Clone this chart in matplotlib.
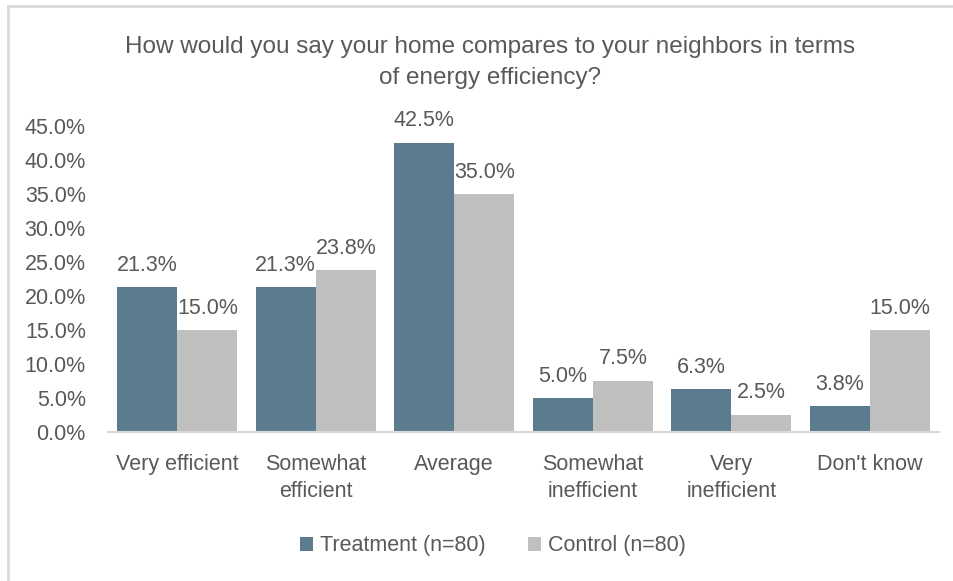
import numpy as np
import matplotlib.pyplot as plt
from matplotlib.lines import Line2D

categories = ["Very efficient", "Somewhat\nefficient", "Average",
              "Somewhat\ninefficient", "Very\ninefficient", "Don't know"]
treatment = [21.3, 21.3, 42.5, 5.0, 6.3, 3.8]
control = [15.0, 23.8, 35.0, 7.5, 2.5, 15.0]
series_names = ["Treatment (n=80)", "Control (n=80)"]

c_treat = "#5B7C8F"
c_ctrl = "#BFBFBF"
txt = "#595959"
fs = 15.5

plt.rcParams['font.family'] = ['Liberation Sans', 'DejaVu Sans']

fig = plt.figure(figsize=(9.54, 5.81), dpi=100)
ax = fig.add_axes([108 / 954, 1 - 432 / 581, (939 - 108) / 954, (432 - 126) / 581])

x = np.arange(len(categories))
w = 0.435
b1 = ax.bar(x - w / 2, treatment, w, color=c_treat, label=series_names[0])
b2 = ax.bar(x + w / 2, control, w, color=c_ctrl, label=series_names[1])

for bars, vals in ((b1, treatment), (b2, control)):
    for bar, v in zip(bars, vals):
        ax.annotate(f"{v:.1f}%", (bar.get_x() + bar.get_width() / 2, v),
                    xytext=(0, 22), textcoords="offset pixels",
                    ha="center", va="center", fontsize=fs, color=txt)

ax.set_xlim(-0.5, len(categories) - 0.5)
ax.set_ylim(0, 45)
ax.set_yticks(np.arange(0, 46, 5))
ax.set_yticklabels([f"{t:.1f}%" for t in np.arange(0, 46, 5)])
ax.set_xticks(x)
ax.set_xticklabels(categories, va="top", linespacing=1.4)
ax.tick_params(axis="both", length=0, labelsize=fs, labelcolor=txt)
ax.tick_params(axis="x", pad=15.5)
ax.tick_params(axis="y", pad=16)

for s in ("top", "right", "left"):
    ax.spines[s].set_visible(False)
ax.spines["bottom"].set_color("#D9D9D9")
ax.spines["bottom"].set_linewidth(1.5)

fig.text(490 / 954, 1 - 62.5 / 581,
         "How would you say your home compares to your neighbors in terms\nof energy efficiency?",
         ha="center", va="center", fontsize=17.5, color=txt, linespacing=1.5)

fig.legend(handles=[b1, b2], loc="center", bbox_to_anchor=(493 / 954, 1 - 546 / 581),
           ncol=2, frameon=False, fontsize=fs, labelcolor=txt,
           handlelength=0.6, handleheight=0.6, handletextpad=0.3, columnspacing=2.0)

# light frame along the top and left edges
fig.add_artist(Line2D([8 / 954, 1], [1 - 6 / 581] * 2, color="#D9D9D9", lw=2))
fig.add_artist(Line2D([8 / 954] * 2, [0, 1 - 6 / 581], color="#D9D9D9", lw=2))

fig.savefig("out.png", dpi=100)
